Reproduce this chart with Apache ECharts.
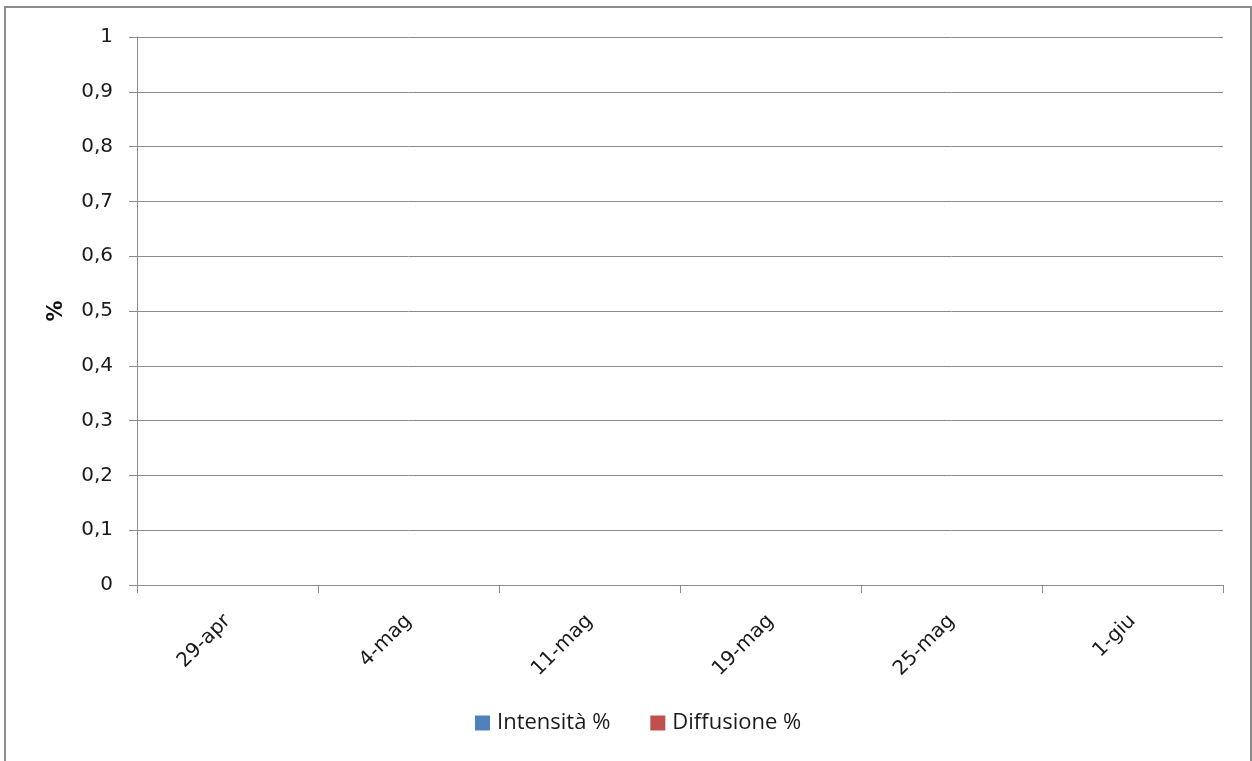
<!DOCTYPE html>
<html>
<head>
<meta charset="utf-8">
<script src="https://cdn.jsdelivr.net/npm/echarts@6/dist/echarts.min.js"></script>
<style>
html,body{margin:0;padding:0;background:#fff;}
#frame{position:absolute;left:4px;top:6px;width:1248px;height:780px;border:2px solid #8c8c8c;box-sizing:border-box;}
#chart{position:absolute;left:0;top:0;width:1252px;height:761px;}
</style>
</head>
<body>
<div id="frame"></div>
<div id="chart"></div>
<script>
const categories = ['29-apr','4-mag','11-mag','19-mag','25-mag','1-giu'];
const intensita = [0,0,0,0,0,0];
const diffusione = [0,0,0,0,0,0];
const seriesNames = ['Intensità %','Diffusione %'];

const chart = echarts.init(document.getElementById('chart'), null, {renderer:'canvas'});
const axisFont = '"DejaVu Sans", sans-serif';
const legendFont = '"Open Sans", sans-serif';
chart.setOption({
  backgroundColor: 'transparent',
  animation: false,
  grid: {left:137, right:29, top:37, bottom:176, containLabel:false},
  legend: {
    bottom: 22, left: 470,
    itemWidth: 15, itemHeight: 15, itemGap: 40,
    icon: 'rect',
    textStyle: {fontFamily: legendFont, fontSize: 22, color: '#1a1a1a', padding: [0,0,0,2]},
    data: seriesNames
  },
  xAxis: {
    type: 'category',
    data: categories,
    boundaryGap: true,
    axisLine: {lineStyle: {color: '#8c8c8c', width: 1}},
    axisTick: {show: true, length: 8, lineStyle: {color: '#8c8c8c'}},
    axisLabel: {rotate: 45, margin: 33, fontFamily: axisFont, fontSize: 20, color: '#1a1a1a', interval: 0}
  },
  yAxis: {
    type: 'value',
    min: 0, max: 1, interval: 0.1,
    name: '%',
    nameLocation: 'middle',
    nameGap: 70,
    nameRotate: 90,
    nameTextStyle: {fontFamily: axisFont, fontSize: 21, fontWeight: 'bold', color: '#111'},
    axisLine: {show: true, lineStyle: {color: '#8c8c8c', width: 1}},
    axisTick: {show: true, length: 8, lineStyle: {color: '#8c8c8c'}},
    splitLine: {show: true, lineStyle: {color: '#8c8c8c', width: 1}},
    axisLabel: {
      margin: 24, fontFamily: axisFont, fontSize: 20, color: '#1a1a1a',
      formatter: v => String(Math.round(v*10)/10).replace('.', ',')
    }
  },
  series: [
    {name: seriesNames[0], type: 'bar', data: intensita, itemStyle: {color: '#4F81BD'}},
    {name: seriesNames[1], type: 'bar', data: diffusione, itemStyle: {color: '#C0504D'}}
  ]
});
</script>
</body>
</html>
